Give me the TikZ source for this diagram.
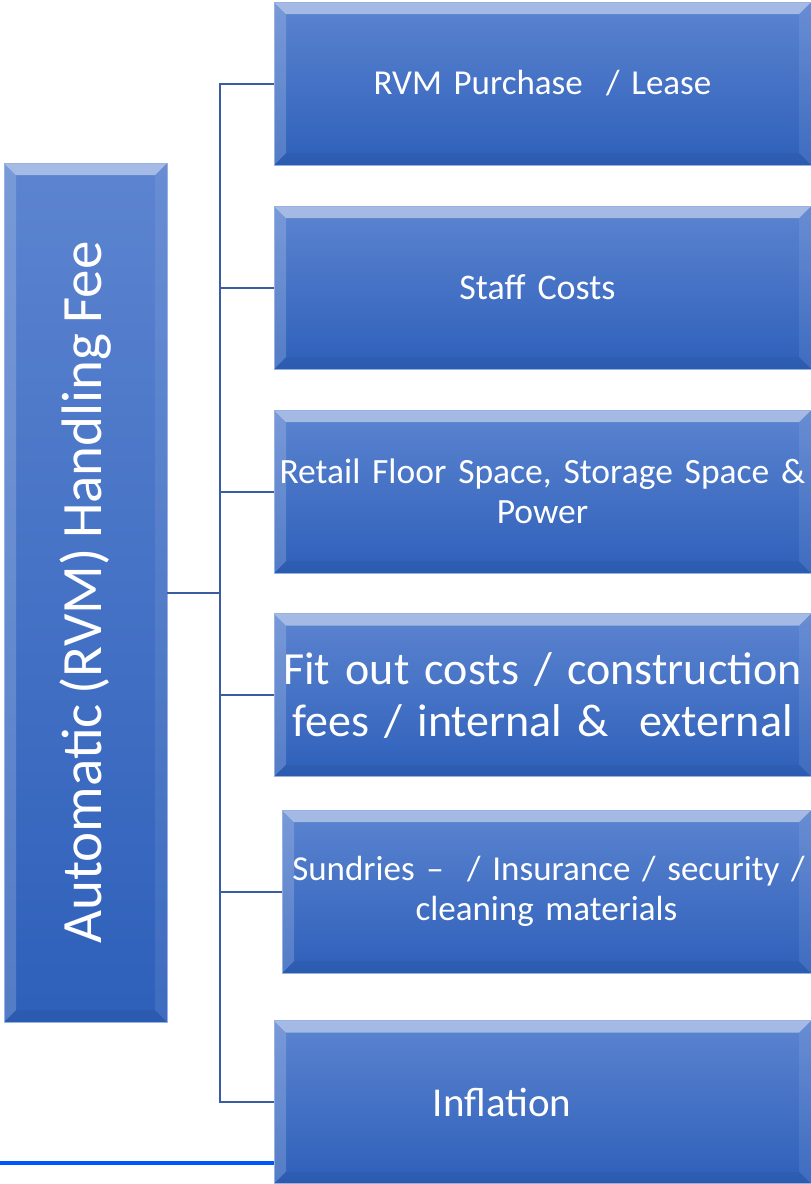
\documentclass[tikz,border=0pt]{standalone}
\usepackage{fontspec}
\setmainfont{Carlito}[WordSpace=0.75]
\definecolor{boxtop}{RGB}{92,132,208}
\definecolor{boxbot}{RGB}{46,96,186}
\definecolor{boxedge}{RGB}{150,178,225}
\definecolor{linkcol}{RGB}{58,92,160}
\definecolor{brightblue}{RGB}{0,85,255}
\tikzset{
  bevelbox/.style={rectangle, inner sep=0pt, text=white, align=center,
    top color=boxtop, bottom color=boxbot, draw=boxedge, line width=0.8pt,
    path picture={
      \fill[white,opacity=0.45] (path picture bounding box.north west) -- (path picture bounding box.north east)
        -- ([xshift=-12pt,yshift=-12pt]path picture bounding box.north east)
        -- ([xshift=12pt,yshift=-12pt]path picture bounding box.north west) -- cycle;
      \fill[white,opacity=0.18] (path picture bounding box.north west) -- ([xshift=12pt,yshift=-12pt]path picture bounding box.north west)
        -- ([xshift=12pt,yshift=12pt]path picture bounding box.south west) -- (path picture bounding box.south west) -- cycle;
      \fill[white,opacity=0.08] (path picture bounding box.north east) -- ([xshift=-12pt,yshift=-12pt]path picture bounding box.north east)
        -- ([xshift=-12pt,yshift=12pt]path picture bounding box.south east) -- (path picture bounding box.south east) -- cycle;
      \fill[black,opacity=0.05] (path picture bounding box.south west) -- ([xshift=12pt,yshift=12pt]path picture bounding box.south west)
        -- ([xshift=-12pt,yshift=12pt]path picture bounding box.south east) -- (path picture bounding box.south east) -- cycle;
    }},
  leafbox/.style={bevelbox, minimum width=537pt, minimum height=163pt, text width=537pt},
  link/.style={draw=linkcol, line width=2pt},
  baseline rule/.style={draw=brightblue, line width=3.5pt}
}
\begin{document}
\begin{tikzpicture}[x=1pt,y=-1pt]
\useasboundingbox (0,0) rectangle (811,1184);
\node[bevelbox, minimum width=163pt, minimum height=859pt,
  label={[rotate=90,text=white,font=\fontsize{57}{66}\selectfont]center:Automatic (RVM) Handling Fee}] (root) at (85.5,592.5) {};
\node[leafbox, font=\fontsize{35}{40}\selectfont] (b1) at (542.5,83.5) {RVM Purchase\ \ / Lease};
\node[leafbox, font=\fontsize{36}{40}\selectfont] (b2) at (542.5,287.5) {\hspace*{-10pt}Staff Costs};
\node[leafbox, font=\fontsize{35.5}{40}\selectfont] (b3) at (542.5,491.5) {Retail Floor Space, Storage Space \&\\Power};
\node[leafbox, font=\fontsize{46}{52}\selectfont] (b4) at (542.5,695) {Fit out costs / construction\\fees / internal \&\ \ external};
\node[leafbox, minimum width=529pt, text width=529pt, font=\fontsize{35}{40}\selectfont] (b5) at (546.5,891.5) {\hspace*{4pt}Sundries --\ \ / Insurance / security /\\cleaning materials};
\node[leafbox, font=\fontsize{41}{46}\selectfont] (b6) at (542.5,1102) {\hspace*{-81pt}Inflation};
\coordinate (j) at (220,592.5);
\draw[link] (root.east) -- (j);
\foreach \b in {b1,b2,b3,b4,b5,b6} {\draw[link] (j) |- (\b.west);}
\coordinate (bl) at (0,1163);
\draw[baseline rule] (bl) -- (bl -| b6.west);
\end{tikzpicture}
\end{document}
